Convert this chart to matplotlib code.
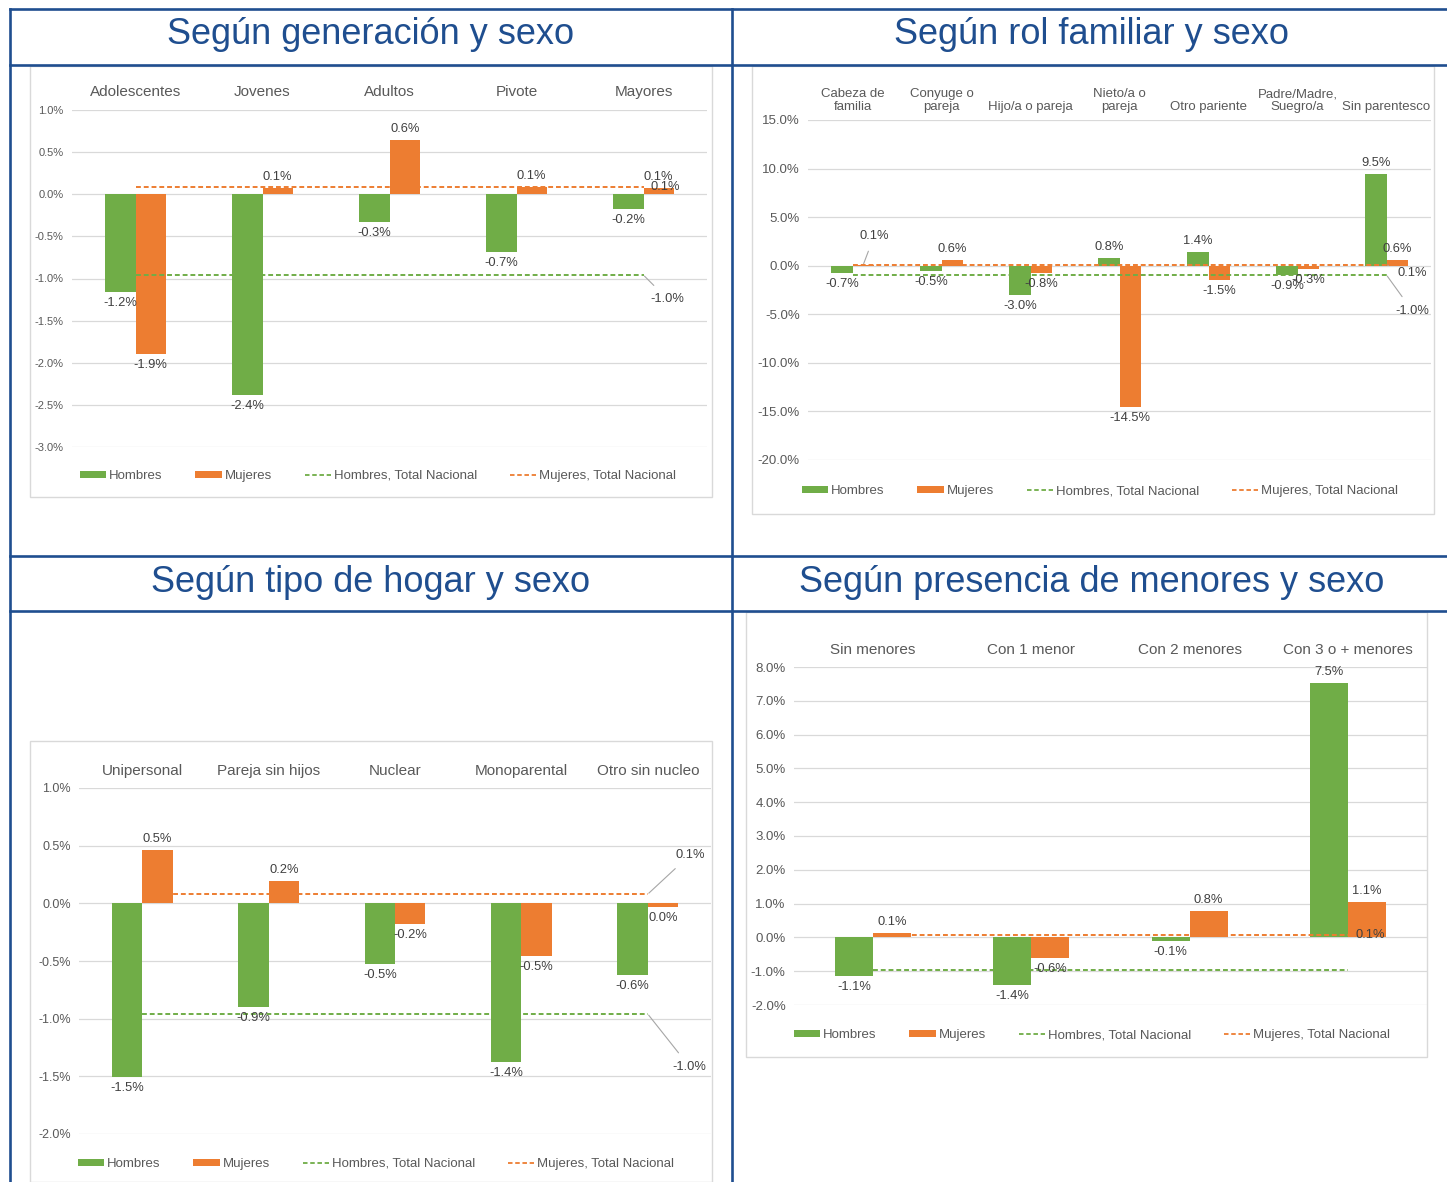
import numpy as np
import matplotlib
matplotlib.use("Agg")
import matplotlib.pyplot as plt
from matplotlib.patches import Rectangle, Patch
from matplotlib.lines import Line2D
from matplotlib.ticker import FuncFormatter, MultipleLocator

plt.rcParams['font.family'] = ['Liberation Sans', 'DejaVu Sans']

ANCHO, ALTO = 1447, 1182

VERDE = "#70AD47"
NARANJA = "#ED7D31"
AZUL = "#1F4E8F"
GRIS_TXT = "#595959"
GRIS_GRID = "#D9D9D9"

# ---- datos (en %) ----
generaciones = ["Adolescentes", "Jovenes", "Adultos", "Pivote", "Mayores"]
gen_hombres = [-1.16, -2.38, -0.33, -0.69, -0.18]
gen_mujeres = [-1.90, 0.07, 0.64, 0.09, 0.08]
gen_total_h = [-0.96, -0.96, -0.96, -0.96, -0.96]
gen_total_m = [0.09, 0.09, 0.09, 0.09, 0.09]

roles = ["Cabeza de\nfamilia", "Conyuge o\npareja", "Hijo/a o pareja", "Nieto/a o\npareja",
         "Otro pariente", "Padre/Madre,\nSuegro/a", "Sin parentesco"]
rol_hombres = [-0.72, -0.53, -3.02, 0.78, 1.42, -0.92, 9.48]
rol_mujeres = [0.08, 0.58, -0.78, -14.52, -1.48, -0.34, 0.62]
rol_total_h = [-0.96, -0.96, -0.96, -0.96, -0.96, -0.96, -0.96]
rol_total_m = [0.09, 0.09, 0.09, 0.09, 0.09, 0.09, 0.09]

hogares = ["Unipersonal", "Pareja sin hijos", "Nuclear", "Monoparental", "Otro sin nucleo"]
hog_hombres = [-1.51, -0.90, -0.53, -1.38, -0.62]
hog_mujeres = [0.46, 0.19, -0.18, -0.46, -0.03]
hog_total_h = [-0.96, -0.96, -0.96, -0.96, -0.96]
hog_total_m = [0.08, 0.08, 0.08, 0.08, 0.08]

menores = ["Sin menores", "Con 1 menor", "Con 2 menores", "Con 3 o + menores"]
men_hombres = [-1.13, -1.40, -0.10, 7.52]
men_mujeres = [0.13, -0.61, 0.78, 1.06]
men_total_h = [-0.96, -0.96, -0.96, -0.96]
men_total_m = [0.08, 0.08, 0.08, 0.08]

titulos = ["Según generación y sexo", "Según rol familiar y sexo",
           "Según tipo de hogar y sexo", "Según presencia de menores y sexo"]


def caja(x0, y0, x1, y1):
    # pixeles -> fraccion de figura
    return [x0 / ANCHO, 1 - y1 / ALTO, (x1 - x0) / ANCHO, (y1 - y0) / ALTO]


def fmt(v):
    return f"{round(v, 1) + 0.0:.1f}%"


fig = plt.figure(figsize=(ANCHO / 100, ALTO / 100), dpi=100)

# ---- tabla ----
def linea(x0, y0, x1, y1):
    fig.add_artist(Line2D([x0 / ANCHO, x1 / ANCHO], [1 - y0 / ALTO, 1 - y1 / ALTO],
                          color=AZUL, lw=1.9, transform=fig.transFigure))

for yy in [9, 65, 556, 611]:
    linea(10, yy, ANCHO, yy)
linea(10, 9, 10, ALTO)
linea(732, 9, 732, ALTO)

centros_titulo = [(371, 35), (1092, 35), (371, 582), (1092, 582)]
for t, (cx, cy) in zip(titulos, centros_titulo):
    fig.text(cx / ANCHO, 1 - cy / ALTO, t, ha="center", va="center",
             fontsize=26, color=AZUL)


def dibujar_panel(marco, area, cats, hombres, mujeres, tot_h, tot_m, ylim, paso,
                  fs_cat, fs_tick, pad_cat, leyenda_xy, guia_h=None, guia_m=None,
                  guias_barras=None):
    x0, y0, x1, y1 = marco
    fig.add_artist(Rectangle((x0 / ANCHO, 1 - y1 / ALTO), (x1 - x0) / ANCHO, (y1 - y0) / ALTO,
                             transform=fig.transFigure, facecolor="white",
                             edgecolor=GRIS_GRID, lw=1.0, zorder=0))
    ax = fig.add_axes(caja(*area))
    ax.set_facecolor("none")
    x = np.arange(len(cats))
    ancho = 0.24
    ax.bar(x - ancho / 2, hombres, ancho, color=VERDE, zorder=2)
    ax.bar(x + ancho / 2, mujeres, ancho, color=NARANJA, zorder=2)
    ax.plot(x, tot_h, color=VERDE, lw=1.4, ls=(0, (2.5, 1.5)), zorder=3)
    ax.plot(x, tot_m, color=NARANJA, lw=1.4, ls=(0, (2.5, 1.5)), zorder=3)

    guias_barras = guias_barras or {}
    for serie, vals, dx in [("h", hombres, -ancho / 2), ("m", mujeres, ancho / 2)]:
        for i, v in enumerate(vals):
            if (serie, i) in guias_barras:
                ox, oy = guias_barras[(serie, i)]
                ax.annotate(fmt(v), xy=(i + dx, v), xytext=(ox, oy), textcoords="offset pixels",
                            ha="center", va="center", fontsize=9.3, color="#404040",
                            arrowprops=dict(arrowstyle="-", color="#A6A6A6", lw=0.8,
                                            shrinkA=5, shrinkB=1), zorder=4)
                continue
            off = 5 if v >= 0 else -5
            ax.annotate(fmt(v), xy=(i + dx, v), xytext=(0, off), textcoords="offset pixels",
                        ha="center", va="bottom" if v >= 0 else "top",
                        fontsize=9.3, color="#404040", zorder=4)

    for guia, vals in [(guia_h, tot_h), (guia_m, tot_m)]:
        if guia is None:
            continue
        ox, oy, con_linea = guia
        props = None
        if con_linea:
            props = dict(arrowstyle="-", color="#A6A6A6", lw=0.8, shrinkA=5, shrinkB=1)
        ax.annotate(fmt(vals[-1]), xy=(x[-1], vals[-1]), xytext=(ox, oy),
                    textcoords="offset pixels", ha="center", va="center",
                    fontsize=9.3, color="#404040", arrowprops=props, zorder=4)

    ax.set_xlim(-0.5, len(cats) - 0.5)
    ax.set_ylim(*ylim)
    ax.yaxis.set_major_locator(MultipleLocator(paso))
    ax.yaxis.set_major_formatter(FuncFormatter(lambda v, _: f"{v:.1f}%"))
    ax.yaxis.grid(True, color=GRIS_GRID, lw=0.9)
    ax.set_axisbelow(True)
    ax.xaxis.tick_top()
    ax.set_xticks(x)
    ax.set_xticklabels(cats, fontsize=fs_cat, color=GRIS_TXT, linespacing=1.1)
    ax.tick_params(axis="x", length=0, pad=pad_cat)
    ax.tick_params(axis="y", length=0, pad=6, labelsize=fs_tick, labelcolor=GRIS_TXT)
    for s in ax.spines.values():
        s.set_visible(False)

    manejadores = [
        Patch(facecolor=VERDE, label="Hombres"),
        Patch(facecolor=NARANJA, label="Mujeres"),
        Line2D([], [], color=VERDE, lw=1.3, ls=(0, (2.5, 1.5)), label="Hombres, Total Nacional"),
        Line2D([], [], color=NARANJA, lw=1.3, ls=(0, (2.5, 1.5)), label="Mujeres, Total Nacional"),
    ]
    lx, ly = leyenda_xy
    fig.legend(handles=manejadores, loc="center", ncol=4, frameon=False,
               bbox_to_anchor=(lx / ANCHO, 1 - ly / ALTO), fontsize=9.5,
               handlelength=2.0, handleheight=0.45, handletextpad=0.2,
               columnspacing=2.5, labelcolor=GRIS_TXT)
    return ax


# panel 1: generacion
dibujar_panel((30, 66, 712, 497), (72, 110, 707, 447), generaciones,
              gen_hombres, gen_mujeres, gen_total_h, gen_total_m, (-3.0, 1.0), 0.5,
              11, 8, 8, (378, 476),
              guia_h=(24, -24, True), guia_m=(22, 0, False))

# panel 2: rol familiar
dibujar_panel((752, 66, 1434, 514), (808, 120, 1431, 460), roles,
              rol_hombres, rol_mujeres, rol_total_h, rol_total_m, (-20.0, 15.0), 5.0,
              9.5, 9.5, 5, (1100, 491),
              guia_h=(26, -36, True), guia_m=(26, -8, True),
              guias_barras={("m", 0): (11, 29)})

# panel 3: tipo de hogar
dibujar_panel((30, 741, 712, 1182), (79, 788, 711, 1134), hogares,
              hog_hombres, hog_mujeres, hog_total_h, hog_total_m, (-2.0, 1.0), 0.5,
              11, 9, 7, (376, 1164),
              guia_h=(42, -53, True), guia_m=(42, 39, True))

# panel 4: presencia de menores
dibujar_panel((746, 612, 1427, 1057), (794, 667, 1427, 1005), menores,
              men_hombres, men_mujeres, men_total_h, men_total_m, (-2.0, 8.0), 1.0,
              11, 9.5, 7, (1092, 1035),
              guia_m=(22, 0, False))

fig.savefig("out.png", dpi=100, facecolor="white")
